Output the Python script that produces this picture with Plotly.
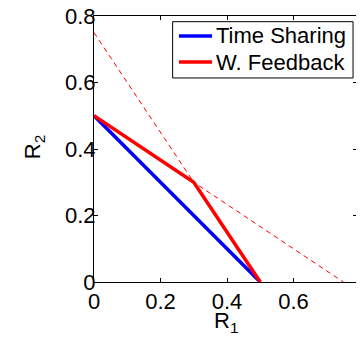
import plotly.graph_objects as go

# Data
ts_r1 = [0.0, 0.5]
ts_r2 = [0.5, 0.0]
fb_r1 = [0.0, 0.3, 0.5]
fb_r2 = [0.5, 0.3, 0.0]
d1_r1 = [0.0, 0.5]
d1_r2 = [0.75, 0.0]
d2_r1 = [0.0, 0.75]
d2_r2 = [0.5, 0.0]
tick_vals = [0, 0.2, 0.4, 0.6, 0.8]
tick_text = ["0", "0.2", "0.4", "0.6", "0.8"]
series_names = ["Time Sharing", "W. Feedback"]
series_colors = ["#0000ff", "#ff0000"]

FONT = "Liberation Sans, Arial, sans-serif"
FS = 22

fig = go.Figure()
fig.add_trace(go.Scatter(x=d1_r1, y=d1_r2, mode="lines", showlegend=False,
                         line=dict(color="#ff0000", width=1, dash="5px,4px"), hoverinfo="skip"))
fig.add_trace(go.Scatter(x=d2_r1, y=d2_r2, mode="lines", showlegend=False,
                         line=dict(color="#ff0000", width=1, dash="5px,4px"), hoverinfo="skip"))
fig.add_trace(go.Scatter(x=ts_r1, y=ts_r2, mode="lines", name=series_names[0], showlegend=False,
                         line=dict(color=series_colors[0], width=3.5)))
fig.add_trace(go.Scatter(x=fb_r1, y=fb_r2, mode="lines", name=series_names[1], showlegend=False,
                         line=dict(color=series_colors[1], width=3.5)))

axis_common = dict(showgrid=False, zeroline=False, showline=True, linecolor="black",
                   linewidth=1, mirror="ticks", ticks="inside", ticklen=4,
                   tickcolor="black", tickwidth=1, automargin=False,
                   ticklabeloverflow="allow",
                   tickfont=dict(family=FONT, size=FS, color="black"),
                   tickvals=tick_vals, ticktext=tick_text)

# Legend box (drawn in paper coordinates)
leg_x0, leg_x1, leg_y0, leg_y1 = 0.299, 0.985, 0.767, 0.9786
sample_x0, sample_x1, text_x = 0.323, 0.449, 0.458
entry_y = [0.925, 0.827]

shapes = [dict(type="rect", xref="paper", yref="paper", x0=leg_x0, x1=leg_x1,
               y0=leg_y0, y1=leg_y1, line=dict(color="black", width=1),
               fillcolor="white", layer="above")]
annotations = []
for name, color, yy in zip(series_names, series_colors, entry_y):
    shapes.append(dict(type="line", xref="paper", yref="paper", x0=sample_x0, x1=sample_x1,
                       y0=yy, y1=yy, line=dict(color=color, width=3.5), layer="above"))
    annotations.append(dict(text=name, xref="paper", yref="paper", x=text_x, y=yy,
                            xanchor="left", yanchor="middle", showarrow=False,
                            font=dict(family=FONT, size=FS, color="black")))

annotations += [
    dict(text="R<sub>1</sub>", xref="paper", yref="paper", x=0.5, y=-0.15,
         xanchor="center", yanchor="middle", showarrow=False,
         font=dict(family=FONT, size=FS, color="black")),
    dict(text="R<sub>2</sub>", xref="paper", yref="paper", x=-0.228, y=0.507,
         xanchor="center", yanchor="middle", showarrow=False, textangle=-90,
         font=dict(family=FONT, size=FS, color="black")),
]

fig.update_layout(
    width=356, height=332,
    margin=dict(l=86, r=7, t=8, b=58),
    paper_bgcolor="white", plot_bgcolor="white",
    font=dict(family=FONT, size=FS, color="black"),
    xaxis=dict(range=[0, 0.791], **axis_common),
    yaxis=dict(range=[0, 0.8], ticklabelstandoff=-7, **axis_common),
    shapes=shapes,
    annotations=annotations,
)

fig.write_html("out.html")
